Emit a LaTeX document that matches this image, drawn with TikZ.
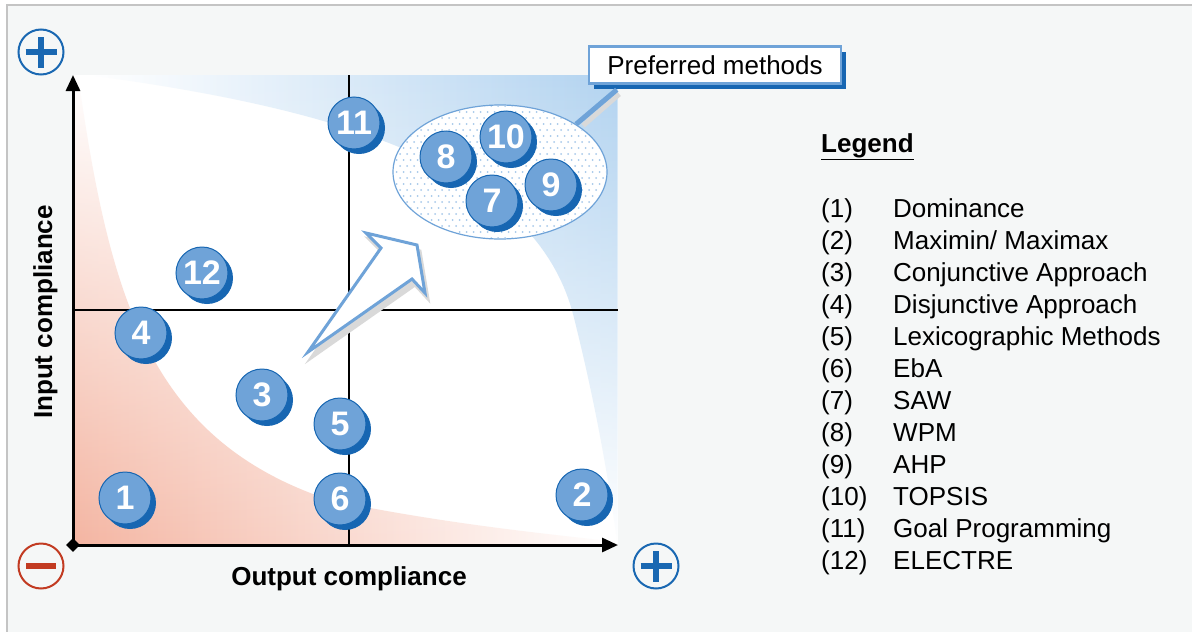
\documentclass[tikz,border=0pt]{standalone}
\usepackage{fontspec}
\setmainfont{Liberation Sans}
\usepackage{tikz}
\usepackage{xcolor}
\usetikzlibrary{arrows.meta,positioning,shapes.geometric,shadows,fadings}
\definecolor{canvas}{HTML}{F5F7F7}
\definecolor{frame}{HTML}{C4C4C4}
\definecolor{badgefill}{HTML}{6FA3D8}
\definecolor{badgedark}{HTML}{1766B2}
\definecolor{lineblue}{HTML}{6FA3D8}
\definecolor{dotblue}{HTML}{A6C8EA}
\definecolor{prefblue}{HTML}{B2D3F0}
\definecolor{redfill}{HTML}{F4B5A2}
\definecolor{plusblue}{HTML}{1A68B2}
\definecolor{minusred}{HTML}{C23B22}
\definecolor{shadowgray}{HTML}{D9D9D9}
\tikzset{
  badge/.style={circle, fill=badgefill, draw=badgedark, line width=1pt, minimum size=52pt,
                inner sep=0pt, text=white, font=\fontsize{34}{34}\selectfont\bfseries,
                general shadow={fill=badgedark, shadow xshift=5pt, shadow yshift=-5pt}},
  note/.style={draw=lineblue, line width=2.5pt, fill=white, minimum width=252pt,
               minimum height=37pt, font=\fontsize{26}{30}\selectfont,
               general shadow={fill=badgedark, shadow xshift=5pt, shadow yshift=-5pt}},
  axisline/.style={line width=3pt, -{Triangle[length=16pt,width=14pt]}},
  midline/.style={line width=2pt},
  bigarrow/.style={draw=lineblue, line width=3pt, fill=white, line join=miter},
  callline/.style={draw=lineblue, line width=5pt},
  signring/.style={circle, draw=#1, line width=2pt, minimum size=45pt, inner sep=0pt},
  axislabel/.style={font=\fontsize{26}{30}\selectfont\bfseries, inner sep=0pt},
  legendtxt/.style={anchor=base west, inner sep=0pt, font=\fontsize{26}{30}\selectfont}
}
\begin{document}
\begin{tikzpicture}[x=1pt,y=-1pt]
  \useasboundingbox (0,0) rectangle (1192,632);
  % page frame
  \fill[white] (0,0) rectangle (1192,632);
  \draw[draw=frame, line width=1.5pt, fill=canvas] (7,5) rectangle (1200,640);
  % plot field with the two tinted zones
  \fill[white] (73,75) rectangle (618,545);
  \shade[left color=redfill, middle color=redfill!85!white, right color=white, path fading=north]
    (73,75) -- (78,75) .. controls (110,300) and (150,440) .. (330,500)
    .. controls (450,525) and (560,535) .. (618,542) -- (618,545) -- (73,545) -- cycle;
  \shade[left color=white, middle color=prefblue!65!white, right color=prefblue, path fading=south]
    (90,75) .. controls (350,110) and (540,170) .. (575,320)
    .. controls (600,420) and (612,500) .. (618,545) -- (618,75) -- cycle;
  % quadrant lines
  \draw[midline] (349,75) -- (349,545);
  \draw[midline] (73,310) -- (618,310);
  % axes
  \coordinate (o) at (73,545);
  \coordinate (ytop) at (73,75);
  \coordinate (xend) at (618,545);
  \draw[axisline] (o) -- (ytop);
  \draw[axisline] (o) -- (xend);
  \node[diamond, fill=black, minimum size=14pt, inner sep=0pt] (odot) at (o) {};
  % big arrow towards the preferred corner
  \fill[shadowgray, draw=shadowgray, line width=3pt, shift={(3,6)}]
    (308,352) -- (381,248) -- (366,233) -- (417,245) -- (425,293) -- (412,279) -- cycle;
  \draw[bigarrow] (308,352) -- (381,248) -- (366,233) -- (417,245) -- (425,293) -- (412,279) -- cycle;
  % preferred group and its callout
  \node[ellipse, draw=lineblue, line width=1.2pt, fill=white, minimum width=214pt,
        minimum height=134pt, inner sep=0pt] (pref) at (500,172) {};
  \begin{scope}
    \clip (500,172) ellipse [x radius=106, y radius=66];
    \foreach \r in {0,...,23} {
      \foreach \c in {0,...,31} {
        \fill[dotblue] ({393+7*\c+3.5*mod(\r,2)},{106+6*\r}) circle (1pt);
      }
    }
  \end{scope}
  \node[note] (note) at (715,65) {Preferred methods};
  \draw[callline, draw=shadowgray, shorten <=4pt, shorten >=2pt]
    ([shift={(4pt,-4pt)}]pref.north east) -- ([shift={(33pt,-8pt)}]note.south west);
  \draw[callline] (pref.north east) -- ([shift={(29pt,-5pt)}]note.south west);
  % method badges
  \foreach \n/\bx/\by in {1/125/498, 2/582/495, 3/262/395, 4/141/333, 5/340/424, 6/340/499,
                          7/492/201, 8/446/157, 9/551/185, 10/506/137, 11/354/123, 12/202/273}
    \node[badge] (b\n) at (\bx,\by) {\n};
  % axis labels
  \node[axislabel, rotate=90, anchor=base] (ylab) at (52,312) {Input compliance};
  \node[axislabel, anchor=base] (xlab) at (349,585) {Output compliance};
  % plus / minus signs
  \node[signring=plusblue] (plusy) at (41,52) {};
  \draw[plusblue, line width=6pt] ([xshift=-15.5pt]plusy.center) -- ([xshift=15.5pt]plusy.center);
  \draw[plusblue, line width=6pt] ([yshift=-15.5pt]plusy.center) -- ([yshift=15.5pt]plusy.center);
  \node[signring=minusred] (minus0) at (41,566) {};
  \draw[minusred, line width=6pt] ([xshift=-15pt]minus0.center) -- ([xshift=15pt]minus0.center);
  \node[signring=plusblue] (plusx) at (656,566) {};
  \draw[plusblue, line width=6pt] ([xshift=-15.5pt]plusx.center) -- ([xshift=15.5pt]plusx.center);
  \draw[plusblue, line width=6pt] ([yshift=-15.5pt]plusx.center) -- ([yshift=15.5pt]plusx.center);
  % legend
  \node[legendtxt, font=\fontsize{26}{30}\selectfont\bfseries] (legtitle) at (821,152) {\underline{Legend}};
  \foreach \name [count=\k] in {Dominance, {Maximin/ Maximax}, Conjunctive Approach,
      Disjunctive Approach, Lexicographic Methods, EbA, SAW, WPM, AHP, TOPSIS,
      Goal Programming, ELECTRE} {
    \node[legendtxt] (num\k) at (821,{217+32*(\k-1)}) {(\k)};
    \node[legendtxt] (item\k) at (893,{217+32*(\k-1)}) {\name};
  }
\end{tikzpicture}
\end{document}
